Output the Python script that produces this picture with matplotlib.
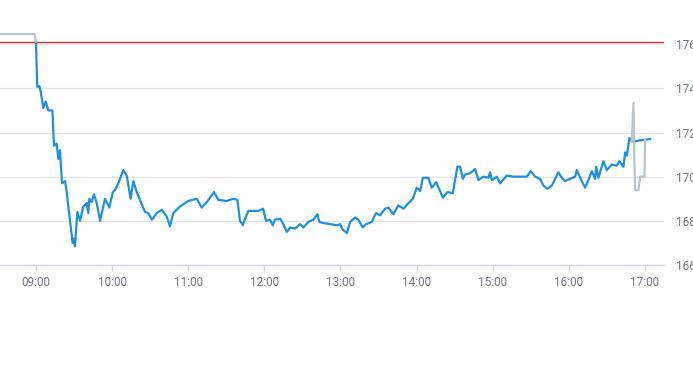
import matplotlib
matplotlib.use("Agg")
import matplotlib.pyplot as plt
import numpy as np

plt.rcParams['font.family'] = ['Roboto', 'DejaVu Sans']

# minutes after 09:00 and prices for the regular session
reg_minutes = [0, 1.0, 2.6, 3.7, 5.8, 7.6, 9.7, 12.9, 14.2, 16.3, 17.6, 18.9, 20.5, 22.9, 24.2,
               26.8, 28.9, 30.0, 30.7, 32.6, 34.7, 37.3, 40.0, 41.2, 42.0, 43.9, 45.7, 47.9,
               50.5, 54.4, 57.8, 60.5, 62.3, 64.9, 68.8, 71.5, 74.6, 76.7, 79.4, 82.0, 85.9,
               88.5, 91.4, 95.2, 99.1, 103.0, 105.6, 108.2, 113.5, 120.1, 126.7, 130.6, 134.6,
               140.3, 143.7, 150.3, 155.6, 158.7, 160.8, 163.0, 164.8, 167.4, 171.3, 175.3,
               179.0, 181.3, 184.5, 186.6, 188.4, 192.4, 194.5, 197.7, 200.3, 204.2, 208.1,
               210.7, 214.7, 218.6, 221.8, 223.3, 226.5, 231.8, 237.1, 239.7, 241.8, 245.0,
               247.6, 251.5, 254.1, 257.5, 260.2, 264.6, 268.0, 271.2, 275.1, 277.7, 281.7,
               285.6, 289.6, 293.5, 297.0, 300.1, 302.8, 304.9, 309.3, 311.9, 315.4, 320.7,
               324.3, 328.5, 332.1, 334.3, 336.4, 338.2, 342.1, 346.1, 348.7, 352.6, 356.6,
               357.9, 359.2, 363.2, 365.8, 371.0, 376.3, 381.5, 386.8, 389.9, 393.4, 397.3,
               399.9, 403.1, 406.6, 411.7, 414.4, 417.0, 421.0, 424.9, 426.3, 428.9, 432.8,
               435.4, 438.1, 440.7, 441.5, 443.3, 447.2, 449.9, 453.8, 457.8, 459.8, 463.0,
               464.4, 465.7, 467.7, 469.6, 472.2, 476.2, 484.0]
reg_price = [176.03, 174.07, 174.1, 173.85, 173.1, 173.4, 173.0, 173.0, 171.4, 171.5, 170.8,
             171.2, 169.7, 169.8, 169.3, 168.0, 167.0, 167.2, 166.85, 168.4, 168.0, 168.65,
             168.8, 168.35, 169.0, 168.85, 169.2, 168.8, 168.0, 169.0, 168.6, 169.3, 169.4,
             169.7, 170.3, 170.05, 169.0, 169.8, 169.3, 168.94, 168.4, 168.35, 168.05, 168.35,
             168.5, 168.2, 167.75, 168.35, 168.65, 168.9, 169.0, 168.6, 168.85, 169.3, 168.95,
             168.9, 169.0, 168.95, 168.0, 167.8, 168.1, 168.45, 168.45, 168.45, 168.55, 168.0,
             168.05, 167.8, 168.05, 168.1, 167.9, 167.5, 167.7, 167.65, 167.85, 167.7, 167.95,
             168.05, 168.3, 167.95, 167.9, 167.85, 167.8, 167.85, 167.6, 167.45, 167.95,
             168.15, 168.05, 167.7, 167.85, 167.95, 168.35, 168.25, 168.55, 168.6, 168.3,
             168.7, 168.55, 168.8, 169.0, 169.5, 169.35, 169.95, 169.95, 169.5, 169.75, 169.05,
             169.3, 169.25, 170.45, 170.45, 169.9, 170.1, 170.15, 170.35, 169.85, 170.0,
             169.95, 170.2, 169.85, 170.0, 169.7, 170.05, 170.0, 170.0, 170.0, 170.25, 170.0,
             169.9, 169.6, 169.45, 169.6, 170.2, 169.95, 169.8, 169.9, 170.0, 170.3, 169.95,
             169.5, 169.85, 170.25, 169.9, 170.45, 169.95, 170.7, 170.3, 170.55, 170.5, 170.7,
             170.45, 171.1, 170.95, 171.75, 171.6, 171.6, 171.65, 171.7]

pre_minutes = [-60, -1, 0]
pre_price = [176.46, 176.46, 176.03]

post_minutes = [469.6, 470.9, 471.5, 472.2, 474.8, 476.2, 479.6, 480.1]
post_price = [171.6, 173.35, 171.1, 169.4, 169.4, 170.0, 170.0, 171.7]

prev_close = 176.08

y_ticks = [166, 168, 170, 172, 174, 176]
x_tick_labels = ["09:00", "10:00", "11:00", "12:00", "13:00", "14:00", "15:00", "16:00", "17:00"]


def to_hours(mins):
    return 9 + np.asarray(mins, dtype=float) / 60.0


fig = plt.figure(figsize=(6.93, 3.65), dpi=100)
ax = fig.add_axes([0, (365 - 265) / 365, 664 / 693, 265 / 365])

ax.set_xlim(8.5271, 17.2496)
ax.set_ylim(166, 178)

for y in y_ticks[1:]:
    ax.axhline(y, color='#e6e6e6', lw=0.9, zorder=1)

ax.axhline(prev_close, color='#cc3333', lw=1.0, zorder=2)

ax.plot(to_hours(pre_minutes), pre_price, color='#b9c4cd', lw=1.6, zorder=3,
        solid_joinstyle='round')
ax.plot(to_hours(reg_minutes), reg_price, color='#1e90dc', lw=1.6, zorder=4,
        solid_joinstyle='round')
ax.plot(to_hours(post_minutes), post_price, color='#b9c4cd', lw=1.6, zorder=5,
        solid_joinstyle='round')

for s in ['top', 'left', 'right']:
    ax.spines[s].set_visible(False)
ax.spines['bottom'].set_color('#ccd6eb')
ax.spines['bottom'].set_linewidth(0.9)

hours = [9 + i for i in range(len(x_tick_labels))]
ax.set_xticks(hours)
ax.set_xticklabels(x_tick_labels)
ax.tick_params(axis='x', colors='#ccd6eb', length=4, width=0.9, pad=4,
               labelcolor='#707a86', labelsize=8.5)

ax.yaxis.tick_right()
ax.set_yticks(y_ticks)
ax.set_yticklabels([str(v) for v in y_ticks])
ax.tick_params(axis='y', length=0, pad=8.5, labelcolor='#707a86', labelsize=8.5)
for lab in ax.get_yticklabels():
    lab.set_horizontalalignment('left')

ax.set_facecolor('white')
fig.patch.set_facecolor('white')

fig.savefig('out.png', dpi=100)
